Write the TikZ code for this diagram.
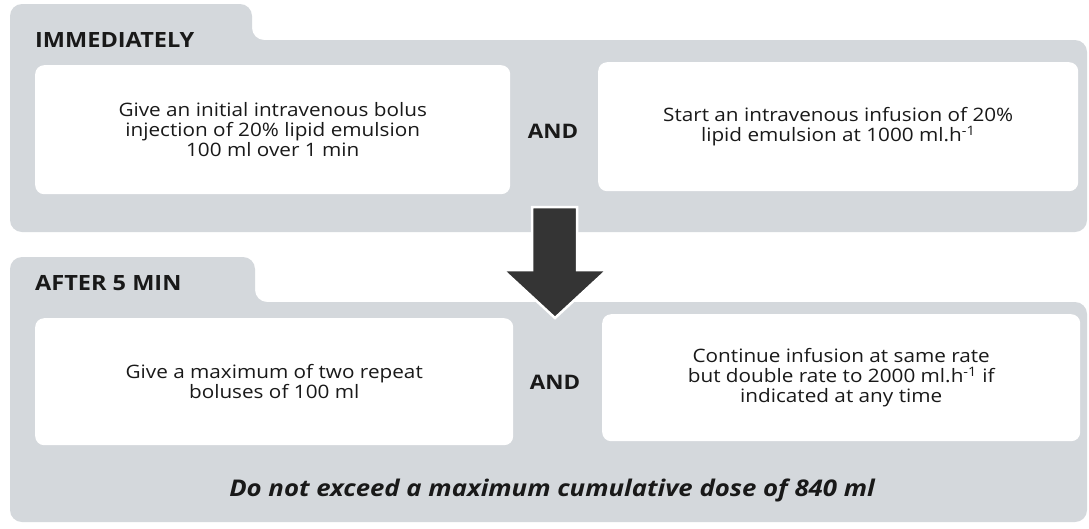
\documentclass[tikz,border=0pt]{standalone}
\usepackage{fontspec}
\setmainfont{Open Sans}[FakeStretch=1.12]
\definecolor{panelgray}{RGB}{212,216,220}
\definecolor{arrowgray}{RGB}{52,52,52}
\definecolor{txt}{RGB}{25,25,25}
\begin{document}
\begin{tikzpicture}[x=1pt,y=-1pt,
  panel/.style={fill=panelgray, rounded corners=12pt},
  wbox/.style={fill=white, rounded corners=9pt, inner sep=0pt, anchor=north west, align=center, text=txt, font=\fontsize{18.5}{20}\selectfont},
  heading/.style={font=\fontsize{21}{22}\selectfont\bfseries, text=txt, anchor=west, inner sep=0pt},
  andlabel/.style={font=\fontsize{20}{22}\selectfont\bfseries, text=txt, inner sep=0pt},
  warn/.style={font=\fontsize{23}{26}\selectfont\bfseries\itshape, text=txt, inner sep=0pt}]
\useasboundingbox[fill=white] (0,0) rectangle (1089,528);
% panels with tabs
\fill[panel] (10,232) -- (10,4) -- (252,4) -- (252,40) -- (1087,40) -- (1087,232) -- cycle;
\fill[panel] (10,522) -- (10,257) -- (255,257) -- (255,302) -- (1087,302) -- (1087,522) -- cycle;
% headings
\node[heading] (h1) at (35,40) {IMMEDIATELY};
\node[heading] (h2) at (35,283) {AFTER 5 MIN};
% top row boxes
\node[wbox, minimum width=475pt, minimum height=129pt] (b1) at (35,65)
  {Give an initial intravenous bolus\\injection of 20\% lipid emulsion\\100 ml over 1 min};
\node[andlabel] (and1) at (553,131) {AND};
\node[wbox, minimum width=480pt, minimum height=129pt] (b2) at (598,62)
  {Start an intravenous infusion of 20\%\\lipid emulsion at 1000 ml.h\textsuperscript{-1}};
% bottom row boxes
\node[wbox, minimum width=478pt, minimum height=127pt] (b3) at (35,318)
  {Give a maximum of two repeat\\boluses of 100 ml};
\node[andlabel] (and2) at (555,382) {AND};
\node[wbox, minimum width=478pt, minimum height=127pt] (b4) at (602,314)
  {Continue infusion at same rate\\but double rate to 2000 ml.h\textsuperscript{-1} if\\indicated at any time};
\node[warn] (w) at (552,490) {Do not exceed a maximum cumulative dose of 840 ml};
% block arrow
\filldraw[fill=arrowgray, draw=white, line width=2.5pt, line join=miter]
  (532,207) -- (577,207) -- (577,270) -- (607,270) -- (555,318) -- (503,270) -- (532,270) -- cycle;
\end{tikzpicture}
\end{document}
